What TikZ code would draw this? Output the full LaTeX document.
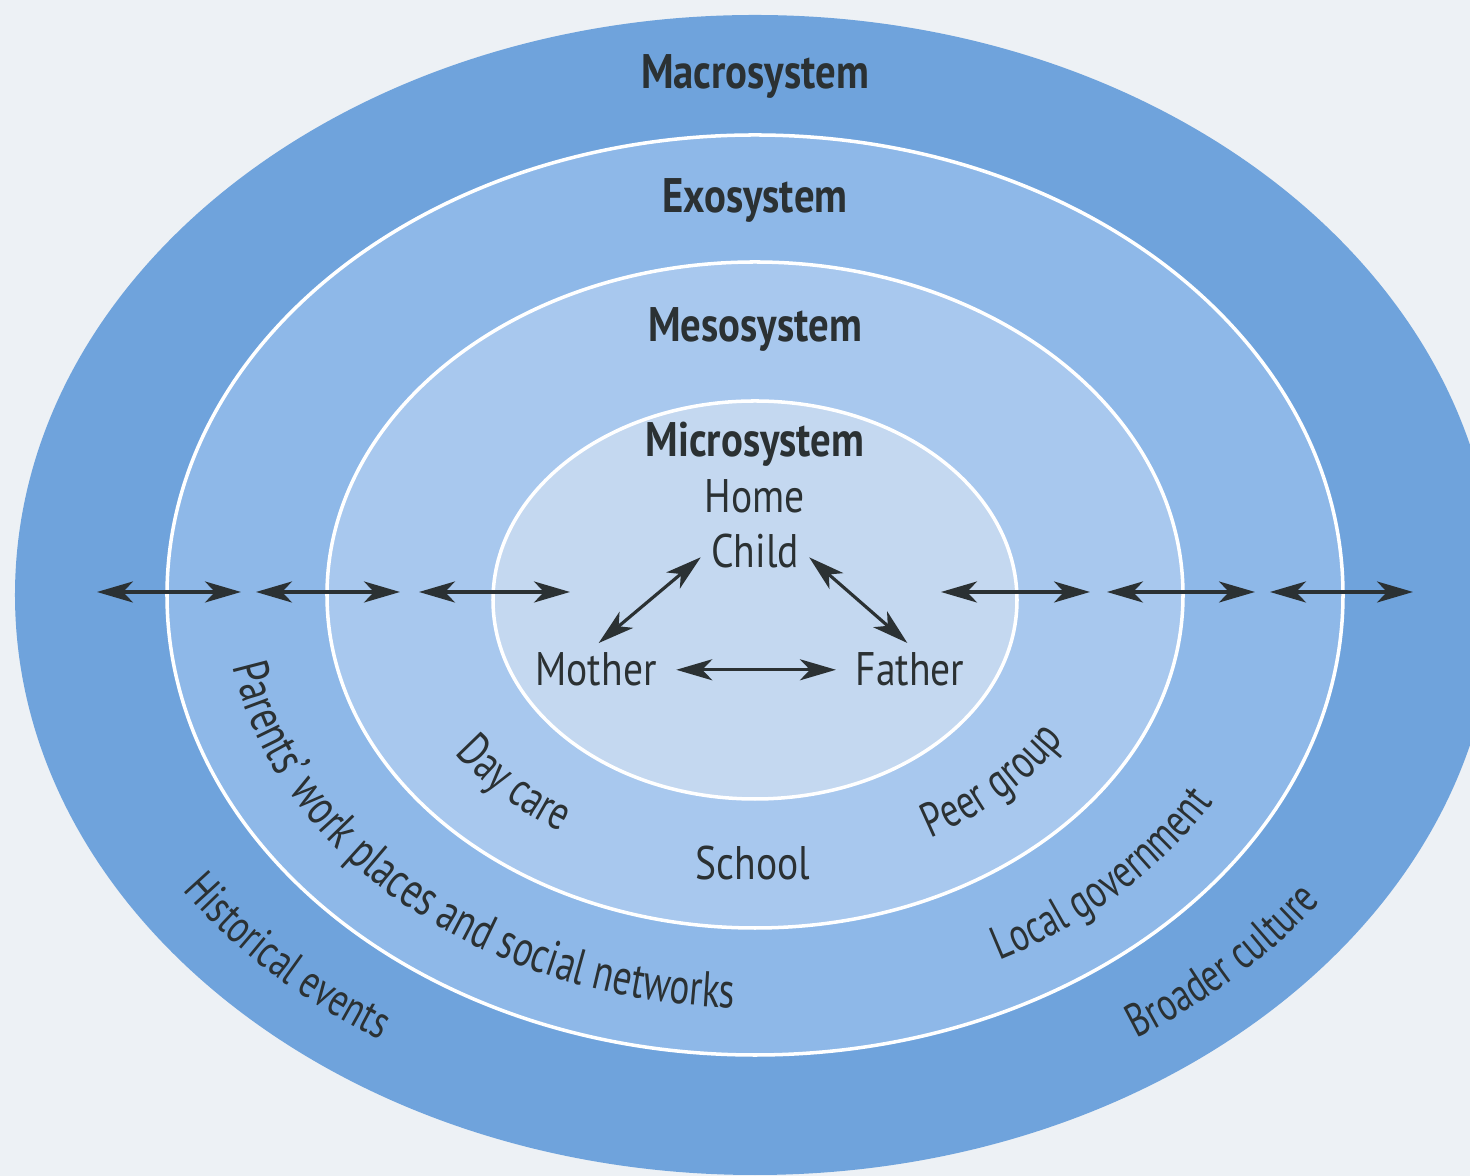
\documentclass[tikz,border=0pt]{standalone}
\usepackage{fontspec}
\setmainfont{PT Sans}[FakeStretch=0.84]
\newfontfamily\bandshape{PT Sans}[FakeStretch=0.74]
\usetikzlibrary{arrows.meta,decorations.text}

\definecolor{macroblue}{HTML}{6FA3DC}
\definecolor{exoblue}{HTML}{8EB8E8}
\definecolor{mesoblue}{HTML}{A8C8EE}
\definecolor{microblue}{HTML}{C4D8F0}
\definecolor{paper}{HTML}{EDF1F5}
\definecolor{ink}{HTML}{2B3133}

\newcommand{\sysfont}{\fontsize{13.8}{16}\selectfont\bfseries}
\newcommand{\itemfont}{\fontsize{13.4}{16}\selectfont}

% label laid along an ellipse: [size], x radius, y radius, start angle, text
\newcommand{\bandtext}[5][13.4]{%
  \path[decorate, decoration={text along path, text color=ink,
      text={|\bandshape\fontsize{#1}{16}\selectfont|#5}}]
    ({#2*cos(#4)},{#3*sin(#4)})
    arc[start angle=#4, end angle=#4+90, x radius=#2, y radius=#3];}

\tikzset{
  system/.style={font=\sysfont, text=ink, anchor=base, inner sep=1pt},
  member/.style={font=\itemfont, text=ink, anchor=base, inner sep=2pt},
  ring/.style={draw=white, line width=1pt},
  link/.style={draw=ink, line width=0.9pt,
    >={Stealth[length=0.36cm,width=0.21cm,inset=0.1cm]}, <->},
}

\begin{document}
\begin{tikzpicture}
  \useasboundingbox (-7.55,-5.81) rectangle (7.15,5.95);
  \clip (-7.55,-5.81) rectangle (7.15,5.95);
  \fill[paper] (-7.55,-5.81) rectangle (7.15,5.95);

  % nested systems
  \fill[macroblue] (0,0) ellipse [x radius=7.40, y radius=5.80];
  \filldraw[ring, fill=exoblue] (0,0) ellipse [x radius=5.88, y radius=4.60];
  \filldraw[ring, fill=mesoblue] (0,0) ellipse [x radius=4.28, y radius=3.33];
  \filldraw[ring, fill=microblue] (0,-0.05) ellipse [x radius=2.62, y radius=1.99];

  \node[system] (macro) at (0,5.06) {Macrosystem};
  \node[system] (exo) at (0,3.82) {Exosystem};
  \node[system] (meso) at (0,2.53) {Mesosystem};
  \node[system] (micro) at (0,1.38) {Microsystem};

  \node[member] (home) at (0,0.82) {Home};
  \node[member] (child) at (0,0.27) {Child};
  \node[member] (mother) at (-1.59,-0.91) {Mother};
  \node[member] (father) at (1.55,-0.91) {Father};
  \node[member] (school) at (-0.02,-2.85) {School};

  \draw[link, shorten <=1pt, shorten >=1pt] (mother.north) -- ([yshift=-1pt]child.west);
  \draw[link, shorten <=1pt, shorten >=1pt] (father.north) -- ([yshift=-1pt]child.east);
  \draw[link, shorten <=0.12cm, shorten >=0.12cm] (mother.east) -- (father.west);

  % links across the rings
  \foreach \xa/\xb [count=\i] in {-6.58/-5.14,-4.99/-3.55,-3.36/-1.85,
                                  1.86/3.35,3.52/5.00,5.15/6.58}{
    \coordinate (link\i a) at (\xa,0.03);
    \coordinate (link\i b) at (\xb,0.03);
    \draw[link] (link\i a) -- (link\i b);
  }

  \bandtext{6.90}{5.30}{213.9}{Historical events}
  \bandtext[14.3]{5.30}{4.13}{190}{Parents’ work places and social networks}
  \bandtext[13.8]{3.64}{2.80}{214.5}{Day care}
  \bandtext[13.8]{3.62}{2.78}{299}{Peer group}
  \bandtext{5.30}{4.12}{297.5}{Local government}
  \bandtext{6.92}{5.32}{303.5}{Broader culture}
\end{tikzpicture}
\end{document}
